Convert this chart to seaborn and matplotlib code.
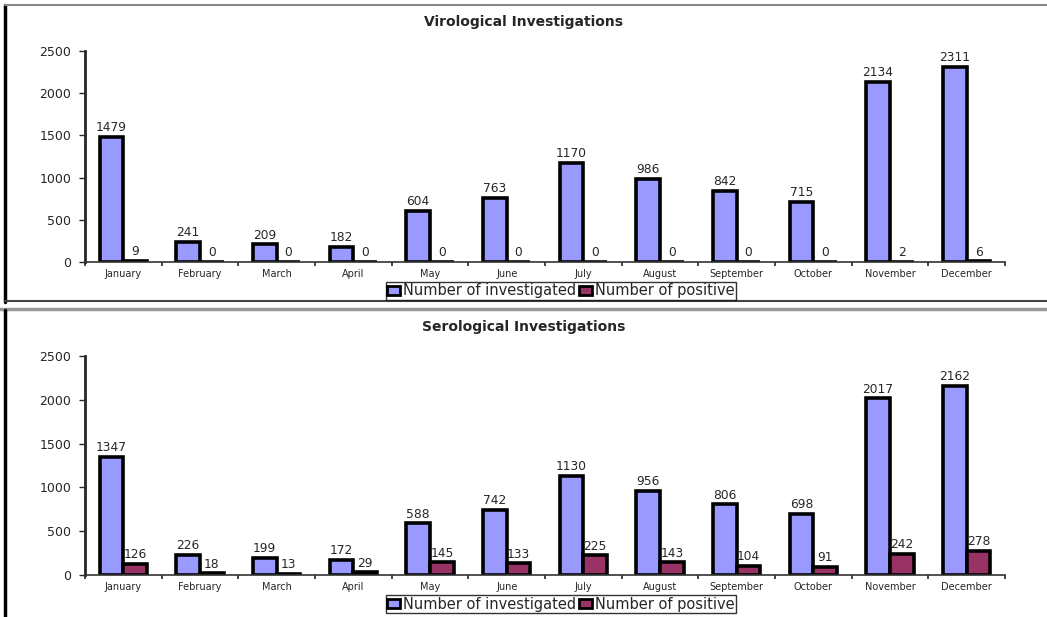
import matplotlib
matplotlib.use("Agg")
import matplotlib.pyplot as plt
import pandas as pd
import seaborn as sns
from matplotlib.lines import Line2D

months = ["January", "February", "March", "April", "May", "June", "July",
          "August", "September", "October", "November", "December"]
viro_investigated = [1479, 241, 209, 182, 604, 763, 1170, 986, 842, 715, 2134, 2311]
viro_positive = [9, 0, 0, 0, 0, 0, 0, 0, 0, 0, 2, 6]
sero_investigated = [1347, 226, 199, 172, 588, 742, 1130, 956, 806, 698, 2017, 2162]
sero_positive = [126, 18, 13, 29, 145, 133, 225, 143, 104, 91, 242, 278]
series_names = ["Number of investigated", "Number of positive"]
colors = ["#9999FF", "#993366"]

sns.set_style("white")
plt.rcParams["font.family"] = ["DejaVu Sans"]

fig = plt.figure(figsize=(10.47, 6.17), dpi=100)
W, H = 1047, 617


def fy(py):
    return 1 - py / H


def panel(rect, title, title_y, inv, pos, legend_y):
    ax = fig.add_axes(rect)
    df = pd.DataFrame({
        "month": months * 2,
        "value": inv + pos,
        "series": [series_names[0]] * 12 + [series_names[1]] * 12,
    })
    sns.barplot(data=df, x="month", y="value", hue="series", order=months,
                hue_order=series_names, palette=colors, saturation=1, width=0.62,
                edgecolor="black", linewidth=2.6, ax=ax, legend=False)
    for c in ax.containers:
        ax.bar_label(c, fmt="%d", padding=2, fontsize=8.8)
    ax.set_ylim(0, 2500)
    ax.set_yticks([0, 500, 1000, 1500, 2000, 2500])
    ax.set_xlim(-0.5, 11.5)
    ax.set_xlabel("")
    ax.set_ylabel("")
    for s in ["top", "right"]:
        ax.spines[s].set_visible(False)
    ax.spines["left"].set_linewidth(2)
    ax.spines["bottom"].set_linewidth(1.2)
    ax.spines["bottom"].set_color("#333333")
    ax.tick_params(axis="y", length=4, width=1, labelsize=9, left=True, pad=6)
    ax.tick_params(axis="x", length=0, labelsize=7, pad=5)
    ax.set_xticks([i - 0.5 for i in range(13)], minor=True)
    ax.tick_params(axis="x", which="minor", length=3, width=1.2, bottom=True)
    fig.text(0.5, fy(title_y), title, ha="center", va="center",
             fontsize=10, fontweight="bold")
    handles = [plt.Rectangle((0, 0), 1, 1, facecolor=c, edgecolor="black", linewidth=2)
               for c in colors]
    leg = fig.legend(handles, series_names, loc="center", ncol=2,
                     bbox_to_anchor=(561 / W, fy(legend_y)), fontsize=10.5,
                     frameon=True, fancybox=False, edgecolor="black",
                     handlelength=0.9, handleheight=0.6, handletextpad=0.2,
                     columnspacing=0.2, borderpad=0.1, borderaxespad=0)
    leg.get_frame().set_linewidth(1)
    return ax


panel([85 / W, fy(262), 920 / W, (262 - 51) / H], "Virological Investigations", 22,
      viro_investigated, viro_positive, 291)
panel([85 / W, fy(575), 920 / W, (575 - 356) / H], "Serological Investigations", 327,
      sero_investigated, sero_positive, 604)

# panel frames
fig.add_artist(Line2D([5 / W, 5 / W], [fy(5), fy(302)], color="black", linewidth=2.5))
fig.add_artist(Line2D([5 / W, 1], [fy(5), fy(5)], color="#888888", linewidth=1.5))
fig.add_artist(Line2D([5 / W, 1], [fy(301), fy(301)], color="#444444", linewidth=1.5))
fig.add_artist(Line2D([0, 1], [fy(309), fy(309)], color="#999999", linewidth=2.5))
fig.add_artist(Line2D([5 / W, 5 / W], [fy(310), 0], color="black", linewidth=2.5))

fig.savefig("out.png", dpi=100)
